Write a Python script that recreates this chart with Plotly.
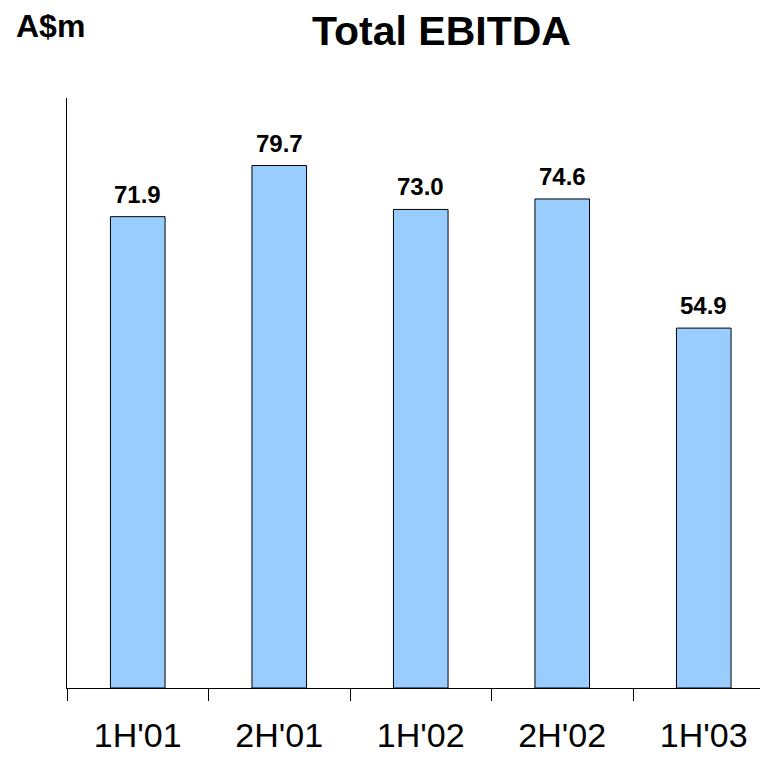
import plotly.graph_objects as go

categories = ["1H'01", "2H'01", "1H'02", "2H'02", "1H'03"]
ebitda = [71.9, 79.7, 73.0, 74.6, 54.9]
value_labels = ["71.9", "79.7", "73.0", "74.6", "54.9"]

FONT = "Liberation Sans, Arial, sans-serif"
W, H = 768, 757
OFF = 8  # default body margin of the page
L, R, T, B = 67 - OFF, 0, 98 - OFF, 757 - (688 - OFF)
pw = W - L - R
ph = H - T - B


def to_paper(sx, sy):
    fx, fy = sx - OFF, sy - OFF
    return (fx - L) / pw, 1 + (T - fy) / ph


fig = go.Figure()
fig.add_trace(go.Bar(
    x=categories, y=ebitda, width=0.386,
    marker=dict(color="#99CCFF", line=dict(color="#000000", width=1)),
    hoverinfo="skip", showlegend=False,
))

for c, v, t in zip(categories, ebitda, value_labels):
    fig.add_annotation(x=c, y=v, xref="x", yref="y", text="<b>%s</b>" % t,
                       showarrow=False, yanchor="bottom", yshift=7,
                       font=dict(family=FONT, size=24, color="#000000"))

tx, ty = to_paper(442, 31)
fig.add_annotation(x=tx, y=ty, xref="paper", yref="paper",
                   text="<b>Total EBITDA</b>", showarrow=False,
                   xanchor="center", yanchor="middle",
                   font=dict(family=FONT, size=41, color="#000000"))
ax, ay = to_paper(50, 26)
fig.add_annotation(x=ax, y=ay, xref="paper", yref="paper",
                   text="<b>A$m</b>", showarrow=False,
                   xanchor="center", yanchor="middle",
                   font=dict(family=FONT, size=32, color="#000000"))

cat_w = 141.5
x_end = -0.5 + pw / cat_w

fig.update_layout(
    width=W, height=H,
    margin=dict(l=L, r=R, t=T, b=B, pad=0),
    paper_bgcolor="white", plot_bgcolor="white",
    xaxis=dict(type="category", range=[-0.5, x_end], showline=True,
               linecolor="#000000", linewidth=1, ticks="outside",
               tickson="boundaries", ticklen=12, tickcolor="#000000",
               tickwidth=1, showgrid=False, zeroline=False,
               tickfont=dict(family=FONT, size=34, color="#000000"),
               ticklabelstandoff=17),
    yaxis=dict(range=[0, 90], showline=True, linecolor="#000000",
               linewidth=1, showticklabels=False, ticks="", showgrid=False,
               zeroline=False),
)

fig.write_html("out.html")
